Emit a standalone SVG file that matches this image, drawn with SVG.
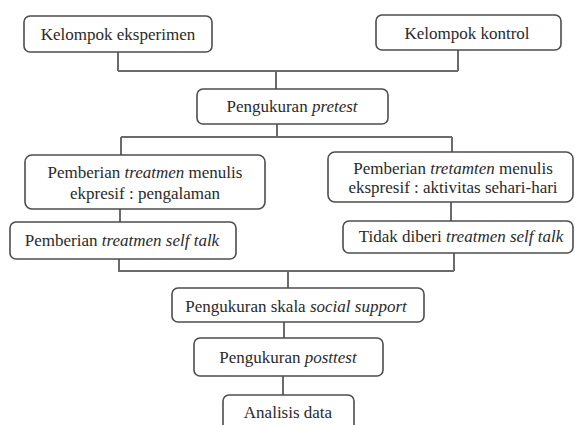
<svg xmlns="http://www.w3.org/2000/svg" width="575" height="425" viewBox="0 0 575 425" font-family="'Liberation Serif', 'Times New Roman', 'DejaVu Serif', serif">
<style>
.box{fill:#fff;stroke:#4d4d4d;stroke-width:1.6}
.t{font-family:'Liberation Serif','DejaVu Serif',serif;font-size:17px;fill:#2a2a2a;text-anchor:middle}
.i{font-style:italic}
.c{stroke:#6b6b6b;stroke-width:2;fill:none}
</style>
<rect width="575" height="425" fill="#fff"/>
<g id="connectors">
<path class="c" d="M118,52V71M458,50V71M118,71H458M276,71V89"/>
<path class="c" d="M277,124V137M121,137H452M121,137V155M452,137V152"/>
<path class="c" d="M120,209V222M451,202V221"/>
<path class="c" d="M119,259V272M454,253V271M119,271H454M288,271V288"/>
<path class="c" d="M284,322V338M283,376V395"/>
</g>
<g id="n1"><rect class="box" x="24" y="16" width="188" height="36" rx="6"/><text class="t" x="118" y="40">Kelompok eksperimen</text></g>
<g id="n2"><rect class="box" x="376" y="15" width="185" height="35" rx="6"/><text class="t" x="467" y="39">Kelompok kontrol</text></g>
<g id="n3"><rect class="box" x="197" y="89" width="191" height="35" rx="6"/><text class="t" x="292" y="112">Pengukuran <tspan class="i">pretest</tspan></text></g>
<g id="n4"><rect class="box" x="25" y="155" width="240" height="54" rx="7"/><text class="t" x="145" y="178">Pemberian <tspan class="i">treatmen</tspan> menulis</text><text class="t" x="145" y="199">ekpresif : pengalaman</text></g>
<g id="n5"><rect class="box" x="328" y="152" width="245" height="50" rx="7"/><text class="t" x="453" y="174">Pemberian <tspan class="i">tretamten</tspan> menulis</text><text class="t" x="453" y="193">ekspresif : aktivitas sehari-hari</text></g>
<g id="n6"><rect class="box" x="10" y="222" width="226" height="37" rx="6"/><text class="t" x="122" y="246">Pemberian <tspan class="i">treatmen self talk</tspan></text></g>
<g id="n7"><rect class="box" x="343" y="221" width="230" height="32" rx="6"/><text class="t" x="461" y="242">Tidak diberi <tspan class="i">treatmen self talk</tspan></text></g>
<g id="n8"><rect class="box" x="172" y="288" width="252" height="34" rx="6"/><text class="t" x="296" y="312">Pengukuran skala <tspan class="i">social support</tspan></text></g>
<g id="n9"><rect class="box" x="194" y="338" width="189" height="38" rx="6"/><text class="t" x="288" y="363">Pengukuran <tspan class="i">posttest</tspan></text></g>
<g id="n10"><rect class="box" x="223" y="395" width="131" height="36" rx="6"/><text class="t" x="288" y="418">Analisis data</text></g>
</svg>
